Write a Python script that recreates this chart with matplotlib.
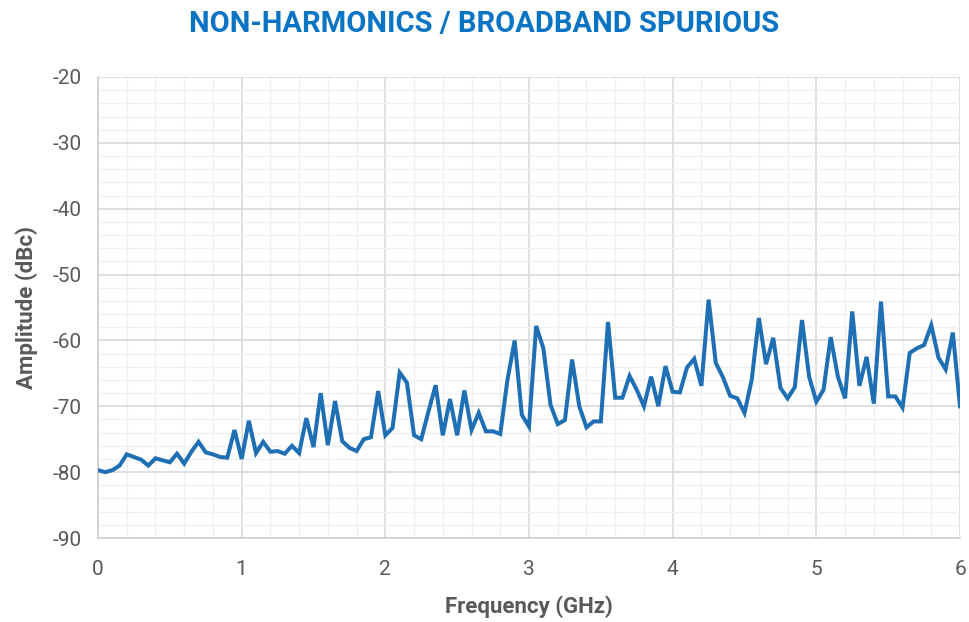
import numpy as np
import matplotlib
matplotlib.use("Agg")
import matplotlib.pyplot as plt
from matplotlib.ticker import MultipleLocator

plt.rcParams['font.family'] = ['Roboto', 'DejaVu Sans']
plt.rcParams['axes.unicode_minus'] = False

freq_step = 0.05
amplitude = [
    -79.7, -80.0, -79.7, -79.0, -77.3, -77.7, -78.1, -79.0, -77.9, -78.2,
    -78.5, -77.2, -78.7, -76.9, -75.4, -77.0, -77.3, -77.7, -77.8, -73.6,
    -78.0, -72.2, -77.1, -75.4, -76.9, -76.8, -77.2, -76.0, -77.1, -71.8,
    -76.2, -68.0, -75.9, -69.2, -75.3, -76.3, -76.8, -75.0, -74.7, -67.7,
    -74.4, -73.3, -64.9, -66.4, -74.4, -75.0, -70.8, -66.8, -74.4, -68.9,
    -74.4, -67.6, -73.6, -71.0, -73.8, -73.8, -74.2, -66.0, -60.0, -71.3,
    -73.1, -57.8, -61.2, -69.8, -72.7, -72.1, -62.9, -70.0, -73.2, -72.3,
    -72.3, -57.2, -68.7, -68.7, -65.4, -67.5, -70.0, -65.5, -70.0, -63.9,
    -67.8, -67.9, -64.1, -62.8, -66.9, -53.8, -63.4, -65.6, -68.4, -68.8,
    -71.0, -66.0, -56.6, -63.6, -59.6, -67.2, -68.8, -67.1, -56.9, -65.5,
    -69.3, -67.5, -59.5, -65.5, -68.8, -55.6, -66.9, -62.5, -69.6, -54.1,
    -68.5, -68.5, -70.2, -61.9, -61.2, -60.7, -57.7, -62.6, -64.4, -58.8,
    -70.0,
]
frequency = [i * freq_step for i in range(len(amplitude))]

x_ticks = [0, 1, 2, 3, 4, 5, 6]
y_ticks = [-90, -80, -70, -60, -50, -40, -30, -20]

title = "NON-HARMONICS / BROADBAND SPURIOUS"
xlabel = "Frequency (GHz)"
ylabel = "Amplitude (dBc)"

fig = plt.figure(figsize=(9.69, 6.22), dpi=100)
ax = fig.add_axes([98/969, 1-538/622, (960-98)/969, (538-77)/622])

ax.plot(frequency, amplitude, color='#1F6FB5', lw=2.9, solid_joinstyle='miter', zorder=3)

ax.set_xlim(0, 6)
ax.set_ylim(-90, -20)
ax.set_xticks(x_ticks)
ax.set_yticks(y_ticks)
ax.xaxis.set_minor_locator(MultipleLocator(0.2))
ax.yaxis.set_minor_locator(MultipleLocator(2))
ax.grid(which='major', color='#D9D9D9', lw=1.2)
ax.grid(which='minor', color='#F0F0F0', lw=1.0)
ax.set_axisbelow(True)

for s in ['top', 'right']:
    ax.spines[s].set_visible(False)
for s in ['left', 'bottom']:
    ax.spines[s].set_color('#D0D0D0')
    ax.spines[s].set_linewidth(1.2)

ax.tick_params(which='both', length=0, labelsize=15, labelcolor='#595959')
ax.tick_params(axis='x', pad=16)
ax.tick_params(axis='y', pad=12)
ax.set_xlabel(xlabel, fontsize=16, fontweight='bold', color='#595959', labelpad=12)
ax.set_ylabel(ylabel, fontsize=16, fontweight='bold', color='#595959', labelpad=10)

fig.text(0.5, 0.962, title, ha='center', va='center', fontsize=21,
         fontweight='bold', color='#0A74C4')

fig.savefig('out.png', dpi=100)
